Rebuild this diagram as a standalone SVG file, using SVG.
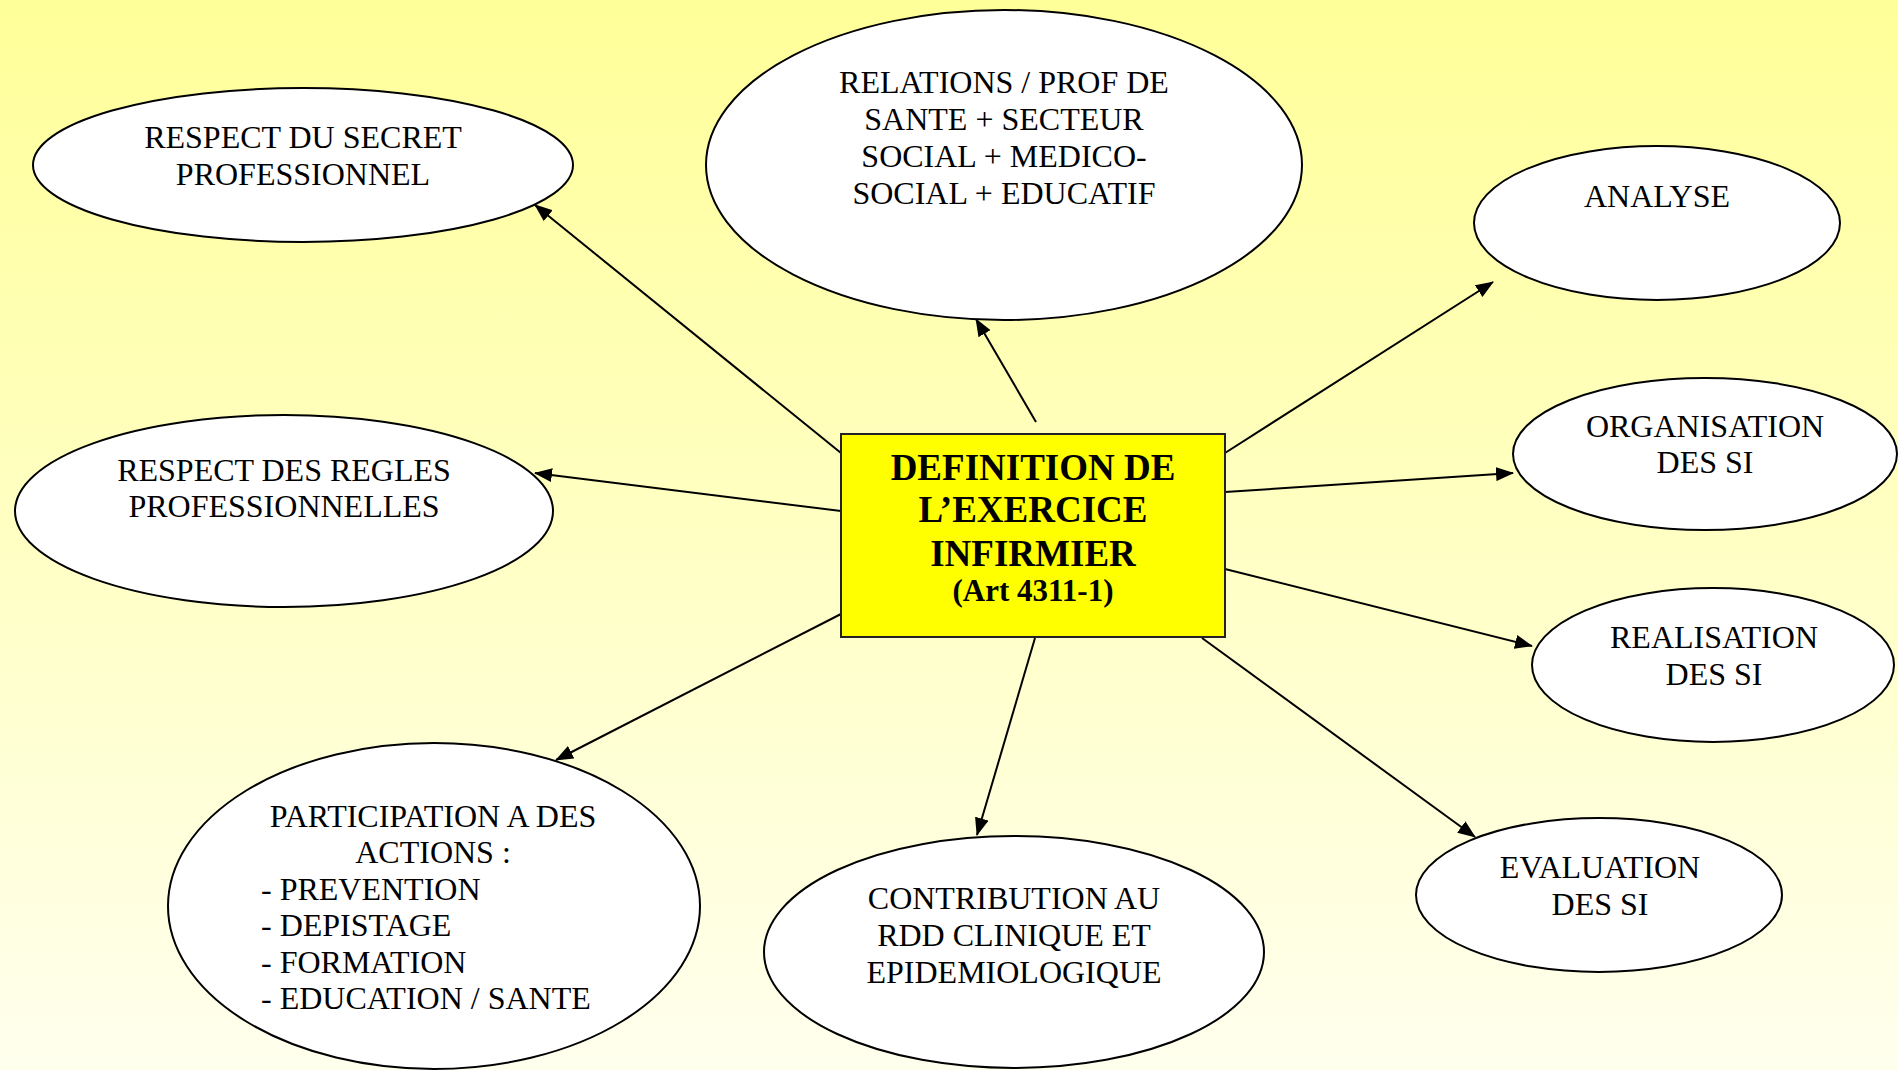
<svg xmlns="http://www.w3.org/2000/svg" width="1898" height="1070" viewBox="0 0 1898 1070">
  <style>
    .node ellipse { fill: #FFFFFF; stroke: #000000; stroke-width: 2; }
    .lbl { font-family: "Liberation Serif", "Times New Roman", serif; font-size: 32px; fill: #000000; text-anchor: middle; }
    .left { text-anchor: start; }
    .title { font-family: "Liberation Serif", "Times New Roman", serif; font-weight: bold; font-size: 37px; fill: #000000; text-anchor: middle; }
    .sub { font-size: 31px; }
    .conn line { stroke: #000000; stroke-width: 2; marker-end: url(#arrow); }
  </style>
  <defs>
    <linearGradient id="bg" x1="0" y1="0" x2="0" y2="1">
      <stop offset="0" stop-color="#FFFF99"/>
      <stop offset="1" stop-color="#FFFFEE"/>
    </linearGradient>
    <marker id="arrow" markerUnits="userSpaceOnUse" markerWidth="18" markerHeight="14" refX="17" refY="7" orient="auto">
      <path d="M0,0 L18,7 L0,14 z" fill="#000000"/>
    </marker>
  </defs>
  <rect x="0" y="0" width="1898" height="1070" fill="url(#bg)"/>

  <g id="connectors" class="conn">
    <line x1="841" y1="453" x2="535" y2="205"/>
    <line x1="841" y1="511" x2="535" y2="473"/>
    <line x1="1036" y1="422" x2="976" y2="319"/>
    <line x1="1225" y1="453" x2="1493" y2="282"/>
    <line x1="1225" y1="492" x2="1513" y2="473"/>
    <line x1="1225" y1="569" x2="1532" y2="646"/>
    <line x1="1202" y1="638" x2="1475" y2="837"/>
    <line x1="1035" y1="638" x2="977" y2="835"/>
    <line x1="841" y1="614" x2="556" y2="760"/>
  </g>

  <g id="center">
    <rect x="841" y="434" width="384" height="203" fill="#FFFF00" stroke="#222222" stroke-width="2"/>
    <text class="title" x="1033" y="480">DEFINITION DE</text>
    <text class="title" x="1033" y="522">L’EXERCICE</text>
    <text class="title" x="1033" y="566">INFIRMIER</text>
    <text class="title sub" x="1033" y="601">(Art 4311-1)</text>
  </g>

  <g id="secret" class="node">
    <ellipse cx="303" cy="165" rx="270" ry="77"/>
    <text class="lbl" x="303" y="148">RESPECT DU SECRET</text>
    <text class="lbl" x="303" y="185">PROFESSIONNEL</text>
  </g>

  <g id="relations" class="node">
    <ellipse cx="1004" cy="165" rx="298" ry="155"/>
    <text class="lbl" x="1004" y="93">RELATIONS / PROF DE</text>
    <text class="lbl" x="1004" y="130">SANTE + SECTEUR</text>
    <text class="lbl" x="1004" y="167">SOCIAL + MEDICO-</text>
    <text class="lbl" x="1004" y="204">SOCIAL + EDUCATIF</text>
  </g>

  <g id="analyse" class="node">
    <ellipse cx="1657" cy="223" rx="183" ry="77"/>
    <text class="lbl" x="1657" y="207">ANALYSE</text>
  </g>

  <g id="organisation" class="node">
    <ellipse cx="1705" cy="454" rx="192" ry="76"/>
    <text class="lbl" x="1705" y="437">ORGANISATION</text>
    <text class="lbl" x="1705" y="473">DES SI</text>
  </g>

  <g id="regles" class="node">
    <ellipse cx="284" cy="511" rx="269" ry="96"/>
    <text class="lbl" x="284" y="481">RESPECT DES REGLES</text>
    <text class="lbl" x="284" y="517">PROFESSIONNELLES</text>
  </g>

  <g id="realisation" class="node">
    <ellipse cx="1713" cy="665" rx="181" ry="77"/>
    <text class="lbl" x="1714" y="648">REALISATION</text>
    <text class="lbl" x="1714" y="685">DES SI</text>
  </g>

  <g id="evaluation" class="node">
    <ellipse cx="1599" cy="895" rx="183" ry="77"/>
    <text class="lbl" x="1600" y="878">EVALUATION</text>
    <text class="lbl" x="1600" y="915">DES SI</text>
  </g>

  <g id="contribution" class="node">
    <ellipse cx="1014" cy="952" rx="250" ry="116"/>
    <text class="lbl" x="1014" y="909">CONTRIBUTION AU</text>
    <text class="lbl" x="1014" y="946">RDD CLINIQUE ET</text>
    <text class="lbl" x="1014" y="983">EPIDEMIOLOGIQUE</text>
  </g>

  <g id="participation" class="node">
    <ellipse cx="434" cy="906" rx="266" ry="163"/>
    <text class="lbl" x="433" y="827">PARTICIPATION A DES</text>
    <text class="lbl" x="433" y="863">ACTIONS :</text>
    <text class="lbl left" x="261" y="900">- PREVENTION</text>
    <text class="lbl left" x="261" y="936">- DEPISTAGE</text>
    <text class="lbl left" x="261" y="973">- FORMATION</text>
    <text class="lbl left" x="261" y="1009">- EDUCATION / SANTE</text>
  </g>
</svg>
